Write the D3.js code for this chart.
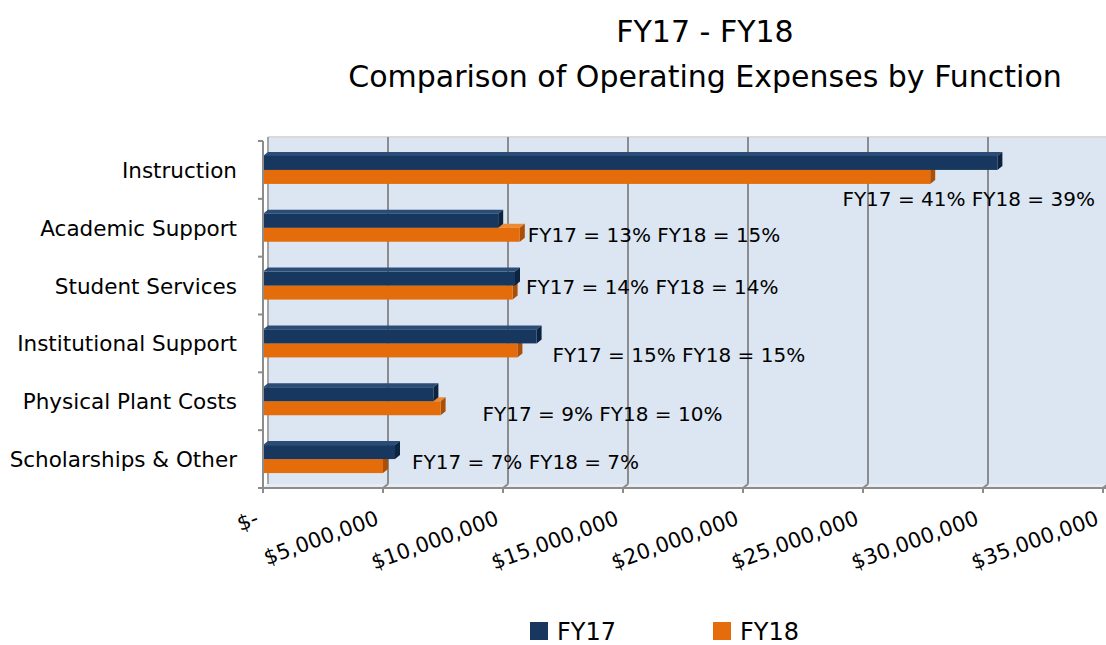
<!DOCTYPE html>
<html>
<head>
<meta charset="utf-8">
<script src="https://cdn.jsdelivr.net/npm/d3@7"></script>
<style>
  body { margin: 0; background: #fff; }
  svg { font-family: "DejaVu Sans", sans-serif; }
</style>
</head>
<body>
<svg id="chart" width="1106" height="645"></svg>
<script>
// chart data
var categories = ["Instruction", "Academic Support", "Student Services", "Institutional Support", "Physical Plant Costs", "Scholarships & Other"];
var fy17 = [30600000, 9800000, 10500000, 11400000, 7100000, 5500000];
var fy18 = [27800000, 10700000, 10400000, 10600000, 7400000, 5000000];
var pctLabels = ["FY17 = 41% FY18 = 39%", "FY17 = 13% FY18 = 15%", "FY17 = 14% FY18 = 14%", "FY17 = 15% FY18 = 15%", "FY17 = 9% FY18 = 10%", "FY17 = 7% FY18 = 7%"];
var xTicks = [0, 5000000, 10000000, 15000000, 20000000, 25000000, 30000000, 35000000];
var seriesNames = ["FY17", "FY18"];

// layout (manual label nudges like in the original workbook)
var labelNudge = [[-155, 29], [8, 7], [11, 1], [16, 12], [42, 13], [17, 3]];
var colors = { FY17: "#17375E", FY18: "#E46C0A" };
var sideColors = { FY17: "#0d2440", FY18: "#a94f06" };
var topColors = { FY17: "#2a4d78", FY18: "#ef8a33" };
var depthX = 5, depthY = -4;

var svg = d3.select("#chart");

var x = d3.scaleLinear().domain([0, 35000000]).range([263, 1103]);
var y = d3.scaleBand().domain(categories).range([141, 488]);

var plotTop = 141, plotBottom = 488;

//back wall
svg.append("rect")
  .attr("x", x(0) + depthX).attr("y", plotTop + depthY)
  .attr("width", 1106 - x(0) - depthX).attr("height", plotBottom - plotTop)
  .attr("fill", "#DCE6F2");
svg.append("line")
  .attr("x1", x(0) + depthX).attr("x2", 1106)
  .attr("y1", plotTop + depthY).attr("y2", plotTop + depthY)
  .attr("stroke", "#d9d9d9").attr("stroke-width", 2);

//floor strip
svg.append("polygon")
  .attr("points", [[x(0), plotBottom], [x(0) + depthX, plotBottom + depthY], [1106, plotBottom + depthY], [1106, plotBottom]].join(" "))
  .attr("fill", "#e6ecf4");

//grid lines on back wall, with little floor connector
xTicks.forEach(function(t) {
  if (t === 0) return;
  svg.append("line")
    .attr("x1", x(t) + depthX).attr("x2", x(t) + depthX)
    .attr("y1", plotTop + depthY).attr("y2", plotBottom + depthY)
    .attr("stroke", "#8c8c8c").attr("stroke-width", 2);
  svg.append("line")
    .attr("x1", x(t) + depthX).attr("x2", x(t))
    .attr("y1", plotBottom + depthY).attr("y2", plotBottom)
    .attr("stroke", "#8c8c8c").attr("stroke-width", 2);
});

//left side wall
svg.append("line")
  .attr("x1", x(0) + depthX).attr("x2", x(0) + depthX)
  .attr("y1", plotTop + depthY).attr("y2", plotBottom + depthY)
  .attr("stroke", "#a6a6a6").attr("stroke-width", 2);

//bars
var barH = 14;
categories.forEach(function(c, i) {
  var mid = y(c) + y.bandwidth() / 2;
  var rows = [
    { name: "FY18", v: fy18[i], top: mid },
    { name: "FY17", v: fy17[i], top: mid - barH }
  ];
  rows.forEach(function(r) {
    var x0 = x(0), x1 = x(r.v);
    var g = svg.append("g");
    g.append("polygon")
      .attr("points", [[x0, r.top], [x0 + depthX, r.top + depthY], [x1 + depthX, r.top + depthY], [x1, r.top]].join(" "))
      .attr("fill", topColors[r.name]);
    g.append("polygon")
      .attr("points", [[x1, r.top], [x1 + depthX, r.top + depthY], [x1 + depthX, r.top + depthY + barH], [x1, r.top + barH]].join(" "))
      .attr("fill", sideColors[r.name]);
    g.append("rect")
      .attr("x", x0).attr("y", r.top)
      .attr("width", x1 - x0).attr("height", barH)
      .attr("fill", colors[r.name]);
  });
});

//front axes
svg.append("line")
  .attr("x1", x(0)).attr("x2", 1106)
  .attr("y1", plotBottom).attr("y2", plotBottom)
  .attr("stroke", "#8c8c8c").attr("stroke-width", 2);
svg.append("line")
  .attr("x1", x(0)).attr("x2", x(0))
  .attr("y1", plotTop).attr("y2", plotBottom)
  .attr("stroke", "#8c8c8c").attr("stroke-width", 2);

//y ticks and category labels
var yEdges = categories.map(function(c) { return y(c); }).concat([plotBottom]);
yEdges.forEach(function(e) {
  svg.append("line")
    .attr("x1", x(0) - 5).attr("x2", x(0))
    .attr("y1", e).attr("y2", e)
    .attr("stroke", "#8c8c8c").attr("stroke-width", 2);
});
svg.selectAll("text.cat")
  .data(categories)
  .enter().append("text")
  .attr("class", "cat")
  .attr("x", 237)
  .attr("y", function(d) { return y(d) + y.bandwidth() / 2 + 8; })
  .attr("text-anchor", "end")
  .attr("font-size", 21.5)
  .attr("fill", "#000")
  .text(function(d) { return d; });

//x ticks and rotated labels
var fmt = function(v) { return v === 0 ? "$-" : "$" + d3.format(",")(v); };
xTicks.forEach(function(t) {
  svg.append("line")
    .attr("x1", x(t)).attr("x2", x(t))
    .attr("y1", plotBottom).attr("y2", plotBottom + 5)
    .attr("stroke", "#8c8c8c").attr("stroke-width", 2);
  svg.append("text")
    .attr("transform", "translate(" + (x(t) - 3) + "," + (plotBottom + 36) + ") rotate(-20)")
    .attr("text-anchor", "end")
    .attr("font-size", 21)
    .attr("fill", "#000")
    .text(fmt(t));
});

//percent labels
svg.selectAll("text.pct")
  .data(pctLabels)
  .enter().append("text")
  .attr("class", "pct")
  .attr("x", function(d, i) { return x(Math.max(fy17[i], fy18[i])) + labelNudge[i][0]; })
  .attr("y", function(d, i) { return y(categories[i]) + y.bandwidth() / 2 + labelNudge[i][1] + 7; })
  .attr("font-size", 20)
  .attr("fill", "#000")
  .text(function(d) { return d; });

//title
svg.append("text")
  .attr("x", 705).attr("y", 42)
  .attr("text-anchor", "middle")
  .attr("font-size", 30)
  .text("FY17 - FY18");
svg.append("text")
  .attr("x", 705).attr("y", 87)
  .attr("text-anchor", "middle")
  .attr("font-size", 30)
  .text("Comparison of Operating Expenses by Function");

//legend
var legend = svg.selectAll("g.leg")
  .data(seriesNames)
  .enter().append("g")
  .attr("class", "leg")
  .attr("transform", function(d, i) { return "translate(" + (530 + i * 183) + ",622)"; });
legend.append("rect")
  .attr("width", 18).attr("height", 18)
  .attr("fill", function(d) { return colors[d]; });
legend.append("text")
  .attr("x", 27).attr("y", 18)
  .attr("font-size", 24)
  .text(function(d) { return d; });
</script>
</body>
</html>
